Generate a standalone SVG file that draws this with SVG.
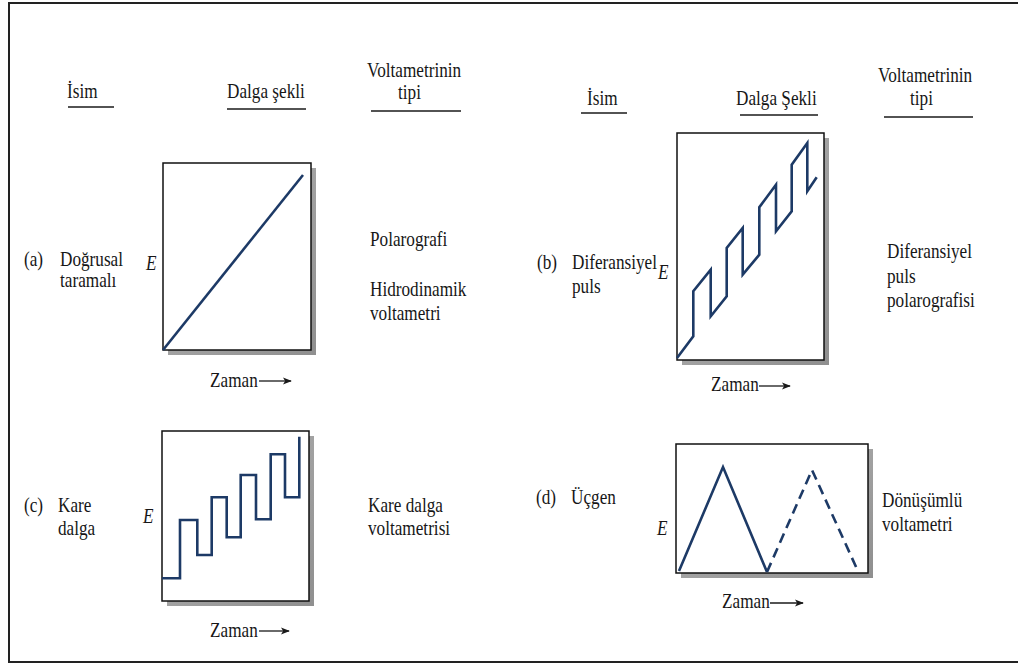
<svg xmlns="http://www.w3.org/2000/svg" width="1018" height="664" viewBox="0 0 1018 664">
  <defs>
    <style>
      .t { font-family: "Liberation Serif", Tinos, "Times New Roman", "DejaVu Serif", serif; font-size: 20px; fill: #161616; }
      .e { font-family: "Liberation Serif", Tinos, "Times New Roman", "DejaVu Serif", serif; font-size: 20px; font-style: italic; fill: #161616; }
      .ul { stroke: #1a1a1a; stroke-width: 1.5; }
      .box { fill: #ffffff; stroke: #111111; stroke-width: 1.5; }
      .shadow { fill: url(#shade); }
      .wave { fill: none; stroke: #1d3a66; stroke-width: 2.6; stroke-linejoin: miter; }
      .dash { stroke-dasharray: 10 6; }
      .axis { stroke: #1a1a1a; stroke-width: 1.3; fill: none; }
    </style>
    <linearGradient id="shade" x1="0" y1="0" x2="1" y2="1">
      <stop offset="0" stop-color="#b5b5b5"/>
      <stop offset="1" stop-color="#8f8f8f"/>
    </linearGradient>
    <marker id="arr" viewBox="0 0 10 10" refX="9" refY="5" markerWidth="9" markerHeight="9" markerUnits="userSpaceOnUse" orient="auto">
      <path d="M0,1 L10,5 L0,9 L2.5,5 Z" fill="#1a1a1a"/>
    </marker>
  </defs>

  <rect x="0" y="0" width="1018" height="664" fill="#ffffff"/>
  <rect x="9" y="3" width="1015" height="659" fill="none" stroke="#222" stroke-width="2"/>

  <!-- Headers -->
  <g id="header-left">
    <text class="t" transform="translate(67 98) scale(0.86 1)">İsim</text>
    <line class="ul" x1="68" y1="107" x2="114" y2="107"/>
    <text class="t" transform="translate(227 98) scale(0.86 1)">Dalga şekli</text>
    <line class="ul" x1="227" y1="109" x2="306" y2="109"/>
    <text class="t" transform="translate(367 77) scale(0.86 1)">Voltametrinin</text>
    <text class="t" transform="translate(398 99) scale(0.86 1)">tipi</text>
    <line class="ul" x1="371" y1="111" x2="461" y2="111"/>
  </g>
  <g id="header-right">
    <text class="t" transform="translate(587 105) scale(0.86 1)">İsim</text>
    <line class="ul" x1="581" y1="113" x2="627" y2="113"/>
    <text class="t" transform="translate(736 105) scale(0.86 1)">Dalga Şekli</text>
    <line class="ul" x1="740" y1="115" x2="818" y2="115"/>
    <text class="t" transform="translate(878 82) scale(0.86 1)">Voltametrinin</text>
    <text class="t" transform="translate(910 105) scale(0.86 1)">tipi</text>
    <line class="ul" x1="884" y1="117" x2="973" y2="117"/>
  </g>

  <!-- Panel (a) -->
  <g id="panel-a">
    <text class="t" transform="translate(24 266) scale(0.86 1)">(a)</text>
    <text class="t" transform="translate(60 266) scale(0.86 1)">Doğrusal</text>
    <text class="t" transform="translate(60 287) scale(0.86 1)">taramalı</text>
    <text class="e" transform="translate(146 270) scale(0.86 1)">E</text>
    <rect class="shadow" x="168" y="168" width="148" height="187"/>
    <rect class="box" x="163" y="163" width="148" height="187"/>
    <path class="wave" d="M163,350 L303,175"/>
    <text class="t" transform="translate(210 387) scale(0.86 1)">Zaman</text>
    <text class="t" transform="translate(370 246) scale(0.86 1)">Polarografi</text>
    <text class="t" transform="translate(370 296) scale(0.86 1)">Hidrodinamik</text>
    <text class="t" transform="translate(370 320) scale(0.86 1)">voltametri</text>
  </g>

  <!-- Panel (b) -->
  <g id="panel-b">
    <text class="t" transform="translate(537 269) scale(0.86 1)">(b)</text>
    <text class="t" transform="translate(572 269) scale(0.86 1)">Diferansiyel</text>
    <text class="t" transform="translate(572 293) scale(0.86 1)">puls</text>
    <text class="e" transform="translate(658 279) scale(0.86 1)">E</text>
    <rect class="shadow" x="682" y="138" width="147" height="227"/>
    <rect class="box" x="677" y="133" width="147" height="227"/>
    <path class="wave" d="M677,358 L693.3,336.3 L693.3,291.3 L710.7,269.7 L710.7,316.3 L726.7,296.3 L726.7,248 L742.7,228 L742.7,274.7 L759.3,254.7 L759.3,207.3 L776,184.7 L776,231.3 L791.7,211.3 L791.7,164.7 L807.3,143 L807.3,191.3 L816.7,177.3"/>
    <text class="t" transform="translate(711 391) scale(0.86 1)">Zaman</text>
    <text class="t" transform="translate(887 258) scale(0.86 1)">Diferansiyel</text>
    <text class="t" transform="translate(887 283) scale(0.86 1)">puls</text>
    <text class="t" transform="translate(887 307) scale(0.86 1)">polarografisi</text>
  </g>

  <!-- Panel (c) -->
  <g id="panel-c">
    <text class="t" transform="translate(24 512) scale(0.86 1)">(c)</text>
    <text class="t" transform="translate(58 512) scale(0.86 1)">Kare</text>
    <text class="t" transform="translate(58 535) scale(0.86 1)">dalga</text>
    <text class="e" transform="translate(143 523) scale(0.86 1)">E</text>
    <rect class="shadow" x="167" y="436" width="147" height="170"/>
    <rect class="box" x="162" y="431" width="147" height="170"/>
    <path class="wave" d="M162,578.3 L180,578.3 L180,520 L197.3,520 L197.3,555 L211.7,555 L211.7,497.3 L226.7,497.3 L226.7,537.3 L240.7,537.3 L240.7,475 L256,475 L256,519.3 L270.7,519.3 L270.7,454.3 L285,454.3 L285,497.3 L299.3,497.3 L299.3,436.7"/>
    <text class="t" transform="translate(210 637) scale(0.86 1)">Zaman</text>
    <text class="t" transform="translate(368 512) scale(0.86 1)">Kare dalga</text>
    <text class="t" transform="translate(368 535) scale(0.86 1)">voltametrisi</text>
  </g>

  <!-- Panel (d) -->
  <g id="panel-d">
    <text class="t" transform="translate(536 504) scale(0.86 1)">(d)</text>
    <text class="t" transform="translate(571 504) scale(0.86 1)">Üçgen</text>
    <text class="e" transform="translate(657 535) scale(0.86 1)">E</text>
    <rect class="shadow" x="681" y="449" width="192" height="129"/>
    <rect class="box" x="676" y="444" width="192" height="129"/>
    <path class="wave" d="M679,571 L723,467 L767,572"/>
    <path class="wave dash" d="M767,572 L812,470 L857,569"/>
    <text class="t" transform="translate(722 608) scale(0.86 1)">Zaman</text>
    <text class="t" transform="translate(882 507) scale(0.86 1)">Dönüşümlü</text>
    <text class="t" transform="translate(882 531) scale(0.86 1)">voltametri</text>
  </g>

  <!-- Connectors: time arrows -->
  <g id="connectors">
    <line class="axis" x1="259" y1="381" x2="291" y2="381" marker-end="url(#arr)"/>
    <line class="axis" x1="759" y1="386" x2="790" y2="386" marker-end="url(#arr)"/>
    <line class="axis" x1="259" y1="631" x2="289" y2="631" marker-end="url(#arr)"/>
    <line class="axis" x1="770" y1="603" x2="803" y2="603" marker-end="url(#arr)"/>
  </g>
</svg>
